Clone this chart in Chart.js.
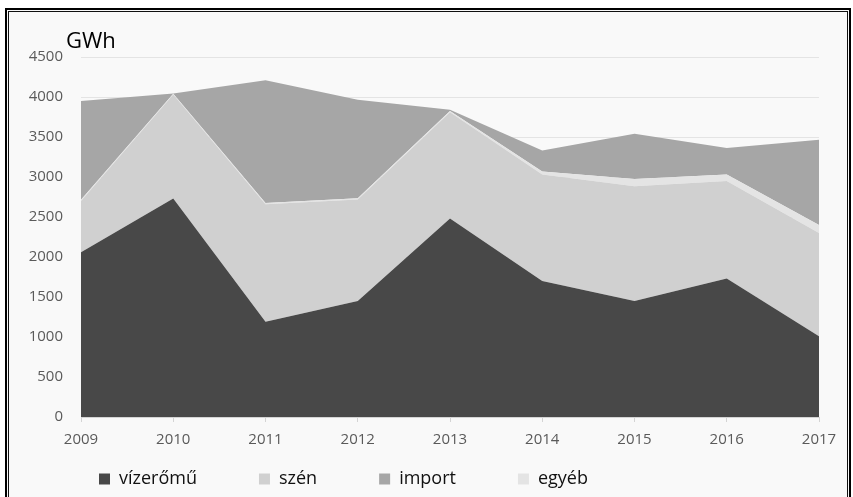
<!DOCTYPE html>
<html>
<head>
<meta charset="utf-8">
<script src="https://cdn.jsdelivr.net/npm/chart.js@4/dist/chart.umd.min.js"></script>
<style>
  html, body { margin: 0; padding: 0; background: #ffffff; }
  body { width: 853px; height: 497px; position: relative; overflow: hidden; }
  #frame {
    position: absolute; left: 5px; top: 8px; width: 846px; height: 500px;
    box-sizing: border-box; border: 2px solid #000;
    box-shadow: inset 0 0 0 1px #f9f9f9, inset 0 0 0 2px #111;
    background: #f9f9f9;
  }
  #c { position: absolute; left: 0; top: 0; }
</style>
</head>
<body>
<div id="frame"></div>
<canvas id="c" width="853" height="497"></canvas>
<script>
// ---- data (GWh) ----
const years = ['2009', '2010', '2011', '2012', '2013', '2014', '2015', '2016', '2017'];
const vizeromu = [2060, 2730, 1190, 1450, 2480, 1700, 1450, 1730, 1010];
const szen     = [640, 1300, 1470, 1270, 1330, 1330, 1435, 1220, 1290];
const egyeb    = [15, 10, 15, 15, 15, 40, 90, 80, 100];
const importV  = [1235, 5, 1535, 1230, 15, 260, 565, 332, 1066];
const unitLabel = 'GWh';
const legendOrder = ['vízerőmű', 'szén', 'import', 'egyéb'];

const FONT = '"Open Sans", "Noto Sans", sans-serif';

function area(label, data, color, fill) {
  return {
    label, data, fill,
    backgroundColor: color, borderColor: color, borderWidth: 0,
    pointRadius: 0, pointHoverRadius: 0, tension: 0
  };
}

const unitPlugin = {
  id: 'unitLabel',
  afterDraw(chart) {
    const ctx = chart.ctx, a = chart.chartArea;
    ctx.save();
    ctx.font = '22px ' + FONT;
    ctx.fillStyle = '#000';
    ctx.textAlign = 'left';
    ctx.textBaseline = 'alphabetic';
    ctx.fillText(unitLabel, a.left - 15, a.top - 9);
    ctx.restore();
  }
};

// place the legend row just under the x-axis labels, starting near the left edge
const legendPlace = {
  id: 'legendPlace',
  afterLayout(chart) {
    const lg = chart.legend;
    if (!lg) return;
    lg.left = chart.chartArea.left - 44;
    lg.width = lg.right - lg.left;
    lg.top = chart.chartArea.bottom - 9;
    lg.bottom = chart.height;
    lg.height = lg.bottom - lg.top;
  }
};

new Chart(document.getElementById('c'), {
  type: 'line',
  data: {
    labels: years,
    datasets: [
      area('vízerőmű', vizeromu, '#484848', 'origin'),
      area('szén', szen, '#d0d0d0', '-1'),
      area('egyéb', egyeb, '#e4e4e4', '-1'),
      area('import', importV, '#a6a6a6', '-1')
    ]
  },
  options: {
    responsive: false,
    animation: false,
    devicePixelRatio: 1,
    layout: { padding: { left: 10, top: 57, right: 34, bottom: 0 } },
    plugins: {
      tooltip: { enabled: false },
      title: { display: false },
      legend: {
        position: 'bottom',
        align: 'start',
        maxHeight: 50,
        labels: {
          boxWidth: 11, boxHeight: 11, padding: 62,
          color: '#111',
          font: { family: FONT, size: 18 },
          sort: (a, b) => legendOrder.indexOf(a.text) - legendOrder.indexOf(b.text)
        }
      }
    },
    scales: {
      x: {
        offset: false,
        afterFit: s => { s.height = 30; },
        grid: { display: true, drawOnChartArea: false, drawTicks: true, tickLength: 5, color: '#d4d4d4' },
        border: { display: true, color: '#d4d4d4', width: 1 },
        ticks: { color: '#5a5a5a', padding: 9, font: { family: FONT, size: 15 }, maxRotation: 0, autoSkip: false }
      },
      y: {
        stacked: true,
        min: 0, max: 4500,
        afterFit: s => { s.width = 71; },
        grid: { color: '#e4e4e4', drawTicks: false, lineWidth: 1 },
        border: { display: false },
        ticks: {
          stepSize: 500, color: '#5a5a5a', padding: 18,
          font: { family: FONT, size: 15 },
          callback: v => String(v)
        }
      }
    }
  },
  plugins: [unitPlugin, legendPlace]
});
</script>
</body>
</html>
